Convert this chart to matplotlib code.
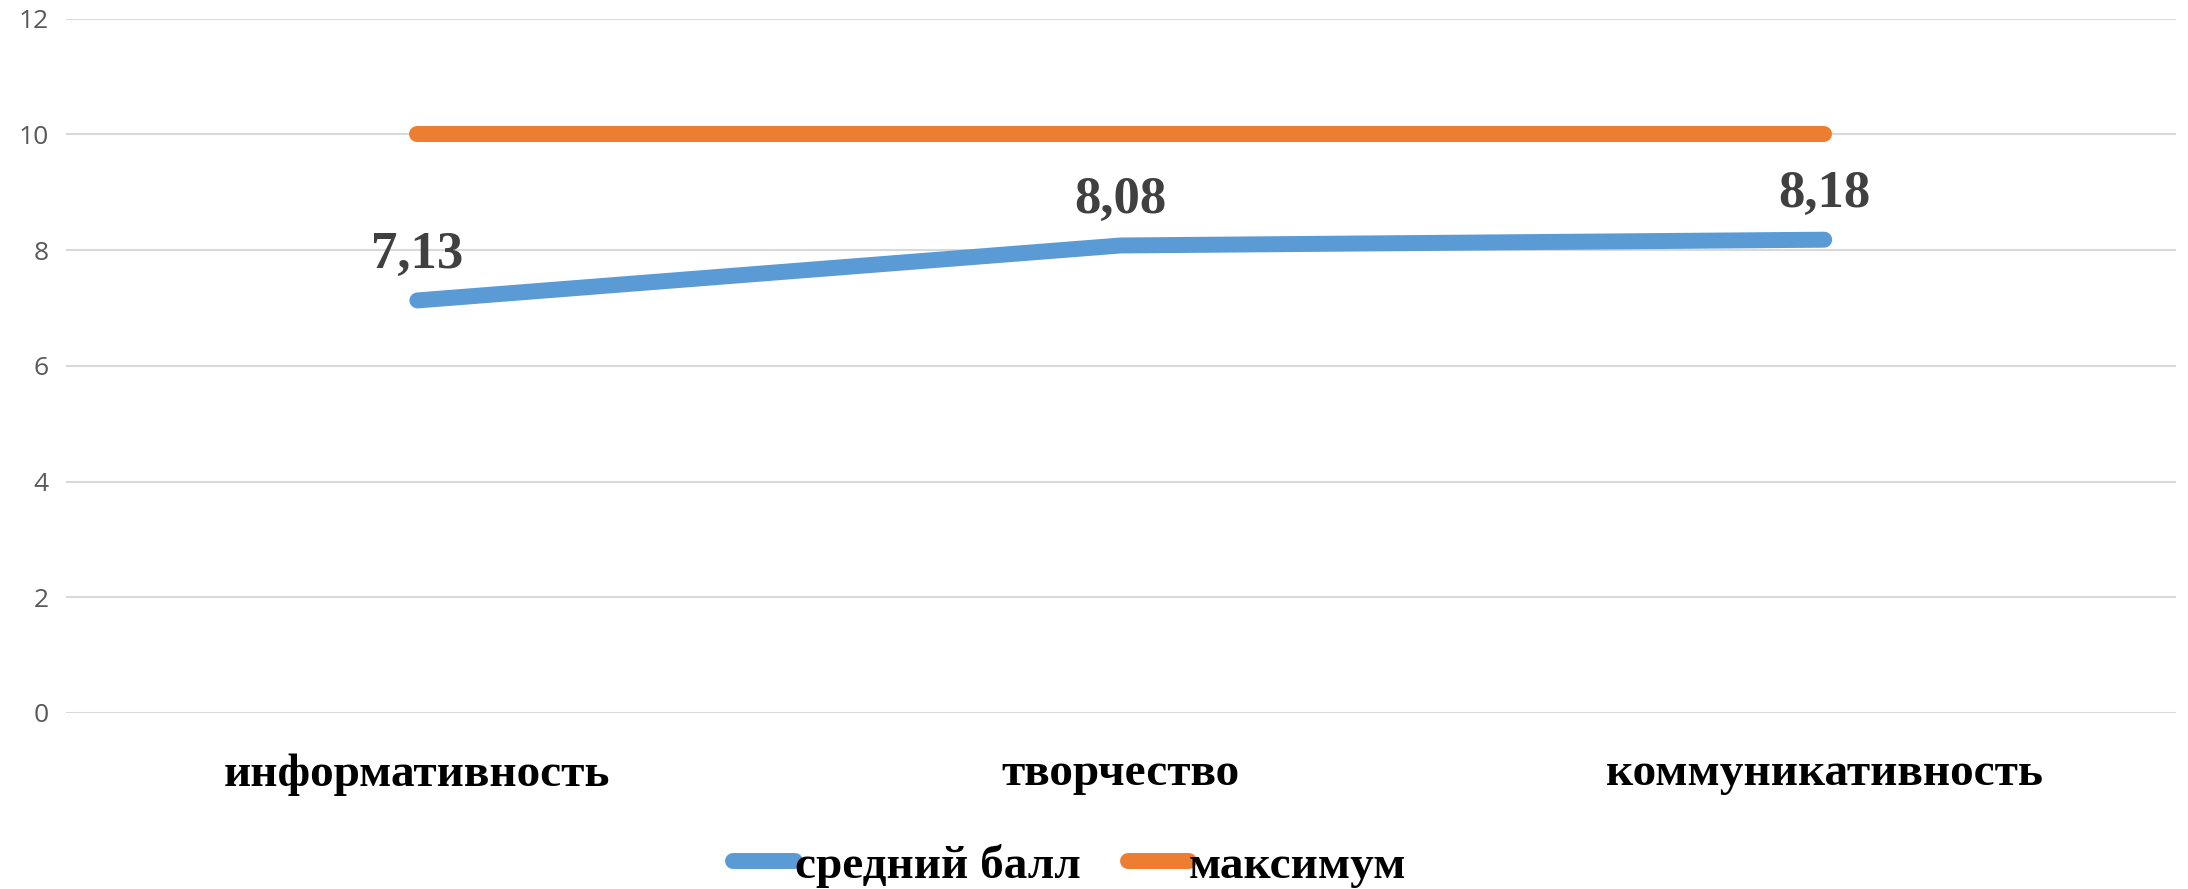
import numpy as np
import matplotlib
matplotlib.use("Agg")
import matplotlib.pyplot as plt

# data
categories = ["информативность", "творчество", "коммуникативность"]
mean_score = [7.13, 8.08, 8.18]
max_score = [10, 10, 10]
mean_labels = ["7,13", "8,08", "8,18"]
series_names = ["средний балл", "максимум"]
yticks = [0, 2, 4, 6, 8, 10, 12]

serif = "Liberation Serif"
sans = "Open Sans"

fig = plt.figure(figsize=(21.88, 8.89), dpi=100)
ax = fig.add_axes([0.030, 0.198, 0.9645, 0.781])

x = np.arange(len(categories))
ax.plot(x, mean_score, color="#5B9BD5", lw=11.5, solid_capstyle="round",
        solid_joinstyle="round", label=series_names[0], zorder=3)
ax.plot(x, max_score, color="#ED7D31", lw=11.5, solid_capstyle="round",
        label=series_names[1], zorder=3)

# labels above the mean points
for xi, yi, lab in zip(x, mean_score, mean_labels):
    ax.annotate(lab, (xi, yi), xytext=(0, 33), textcoords="offset points",
                ha="center", va="center", fontsize=38, fontweight="bold",
                family=serif, color="#404040")

ax.set_xlim(-0.5, 2.5)
ax.set_ylim(0, 12)
ax.set_yticks(yticks)
ax.set_yticklabels([str(t) for t in yticks], family=sans, fontsize=19, color="#595959")
ax.set_xticks(x)
ax.set_xticklabels(categories, family=serif, fontsize=34, fontweight="bold", color="black")
ax.tick_params(axis="both", length=0)
ax.tick_params(axis="x", pad=29)
ax.tick_params(axis="y", pad=12)
ax.grid(axis="y", color="#D9D9D9", lw=1.5, zorder=0)
for s in ax.spines.values():
    s.set_visible(False)

leg = fig.legend(loc="center", bbox_to_anchor=(0.489, 0.026), ncol=2, frameon=False,
                 prop={"family": serif, "size": 34, "weight": "bold"},
                 handlelength=1.3, handletextpad=0.0, columnspacing=1.0)

fig.savefig("out.png", dpi=100)
